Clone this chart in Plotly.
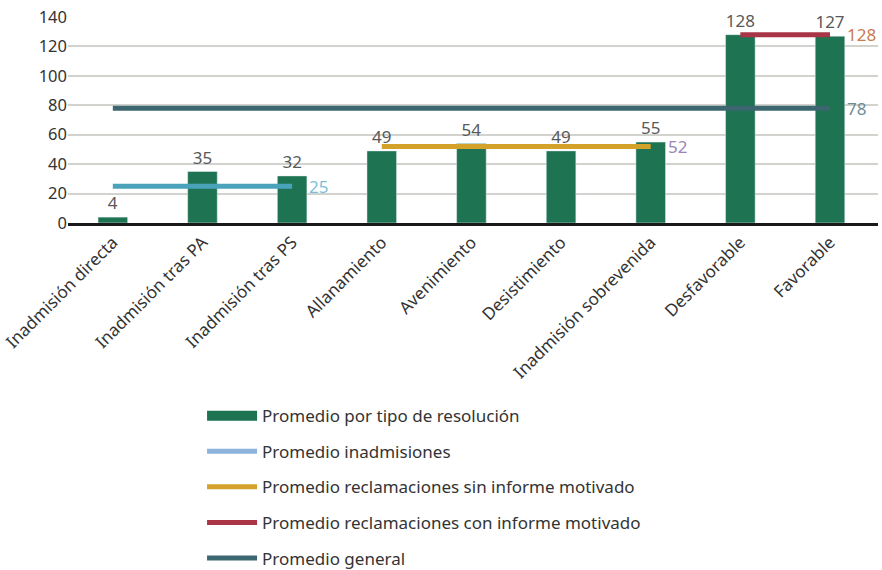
import plotly.graph_objects as go

categories = ["Inadmisión directa", "Inadmisión tras PA", "Inadmisión tras PS", "Allanamiento",
              "Avenimiento", "Desistimiento", "Inadmisión sobrevenida", "Desfavorable", "Favorable"]
bar_values = [4, 35, 32, 49, 54, 49, 55, 128, 127]

avg_inadmisiones = 25
avg_sin_informe = 52
avg_con_informe = 128
avg_general = 78

inad_cats = [categories[0], categories[2]]
sin_cats = [categories[3], categories[6]]
con_cats = [categories[7], categories[8]]
gen_cats = [categories[0], categories[8]]

FONT = "Noto Sans"
fig = go.Figure()

fig.add_trace(go.Bar(x=categories, y=bar_values, marker_color="#1e7352", width=0.33,
                     text=bar_values, textposition="outside", cliponaxis=False,
                     textfont=dict(size=17, color="#595959", family=FONT),
                     showlegend=False, hoverinfo="skip"))
fig.add_trace(go.Scatter(x=[None], y=[None], mode="lines", line=dict(color="#1e7352", width=12),
                         name="Promedio por tipo de resolución", legendgroup="a"))

lines = [
    (inad_cats, avg_inadmisiones, "#4aa3bb", "#8db4da", "Promedio inadmisiones", "#7cc0d6"),
    (sin_cats, avg_sin_informe, "#d4a12a", "#d4a12a", "Promedio reclamaciones sin informe motivado", "#9a86b5"),
    (con_cats, avg_con_informe, "#a83446", "#a83446", "Promedio reclamaciones con informe motivado", "#c87a4f"),
    (gen_cats, avg_general, "#3c6670", "#3c6670", "Promedio general", "#6d8c96"),
]
for i, (cats, val, col, lcol, name, tcol) in enumerate(lines):
    fig.add_trace(go.Scatter(x=cats, y=[val, val], mode="lines", line=dict(color=col, width=5),
                             showlegend=False, hoverinfo="skip", cliponaxis=False))
    fig.add_trace(go.Scatter(x=[None], y=[None], mode="lines", line=dict(color=lcol, width=5),
                             name=name, legendgroup="g%d" % i))
    fig.add_annotation(x=cats[-1], y=val, text=str(val), showarrow=False, xanchor="left",
                       xshift=15, font=dict(size=17, color=tcol, family=FONT))

fig.update_layout(
    width=882, height=570,
    margin=dict(l=68, r=4, t=17, b=347, autoexpand=False),
    plot_bgcolor="white", paper_bgcolor="white",
    font=dict(family=FONT, size=17, color="#333333"),
    bargap=0.67,
    showlegend=True,
    legend=dict(orientation="v", x=0.1655, y=-0.85, xanchor="left", yanchor="top",
                font=dict(size=17, color="#333333", family=FONT),
                tracegroupgap=10.5, itemwidth=50, bgcolor="rgba(0,0,0,0)"),
    xaxis=dict(tickangle=-45, showgrid=False, showline=True, linecolor="#1a1a1a", linewidth=2.5,
               ticks="", tickfont=dict(size=17, color="#333333"), automargin=False),
    yaxis=dict(range=[0, 140], dtick=20, showgrid=True, gridcolor="#d2d2ce", gridwidth=1.5,
               zeroline=False, showline=False, tickfont=dict(size=16.5, color="#333333"),
               ticks="", automargin=False),
)

fig.write_html("out.html", config={"displayModeBar": False},
               post_script="document.body.style.margin='0';document.body.style.overflow='hidden';")
